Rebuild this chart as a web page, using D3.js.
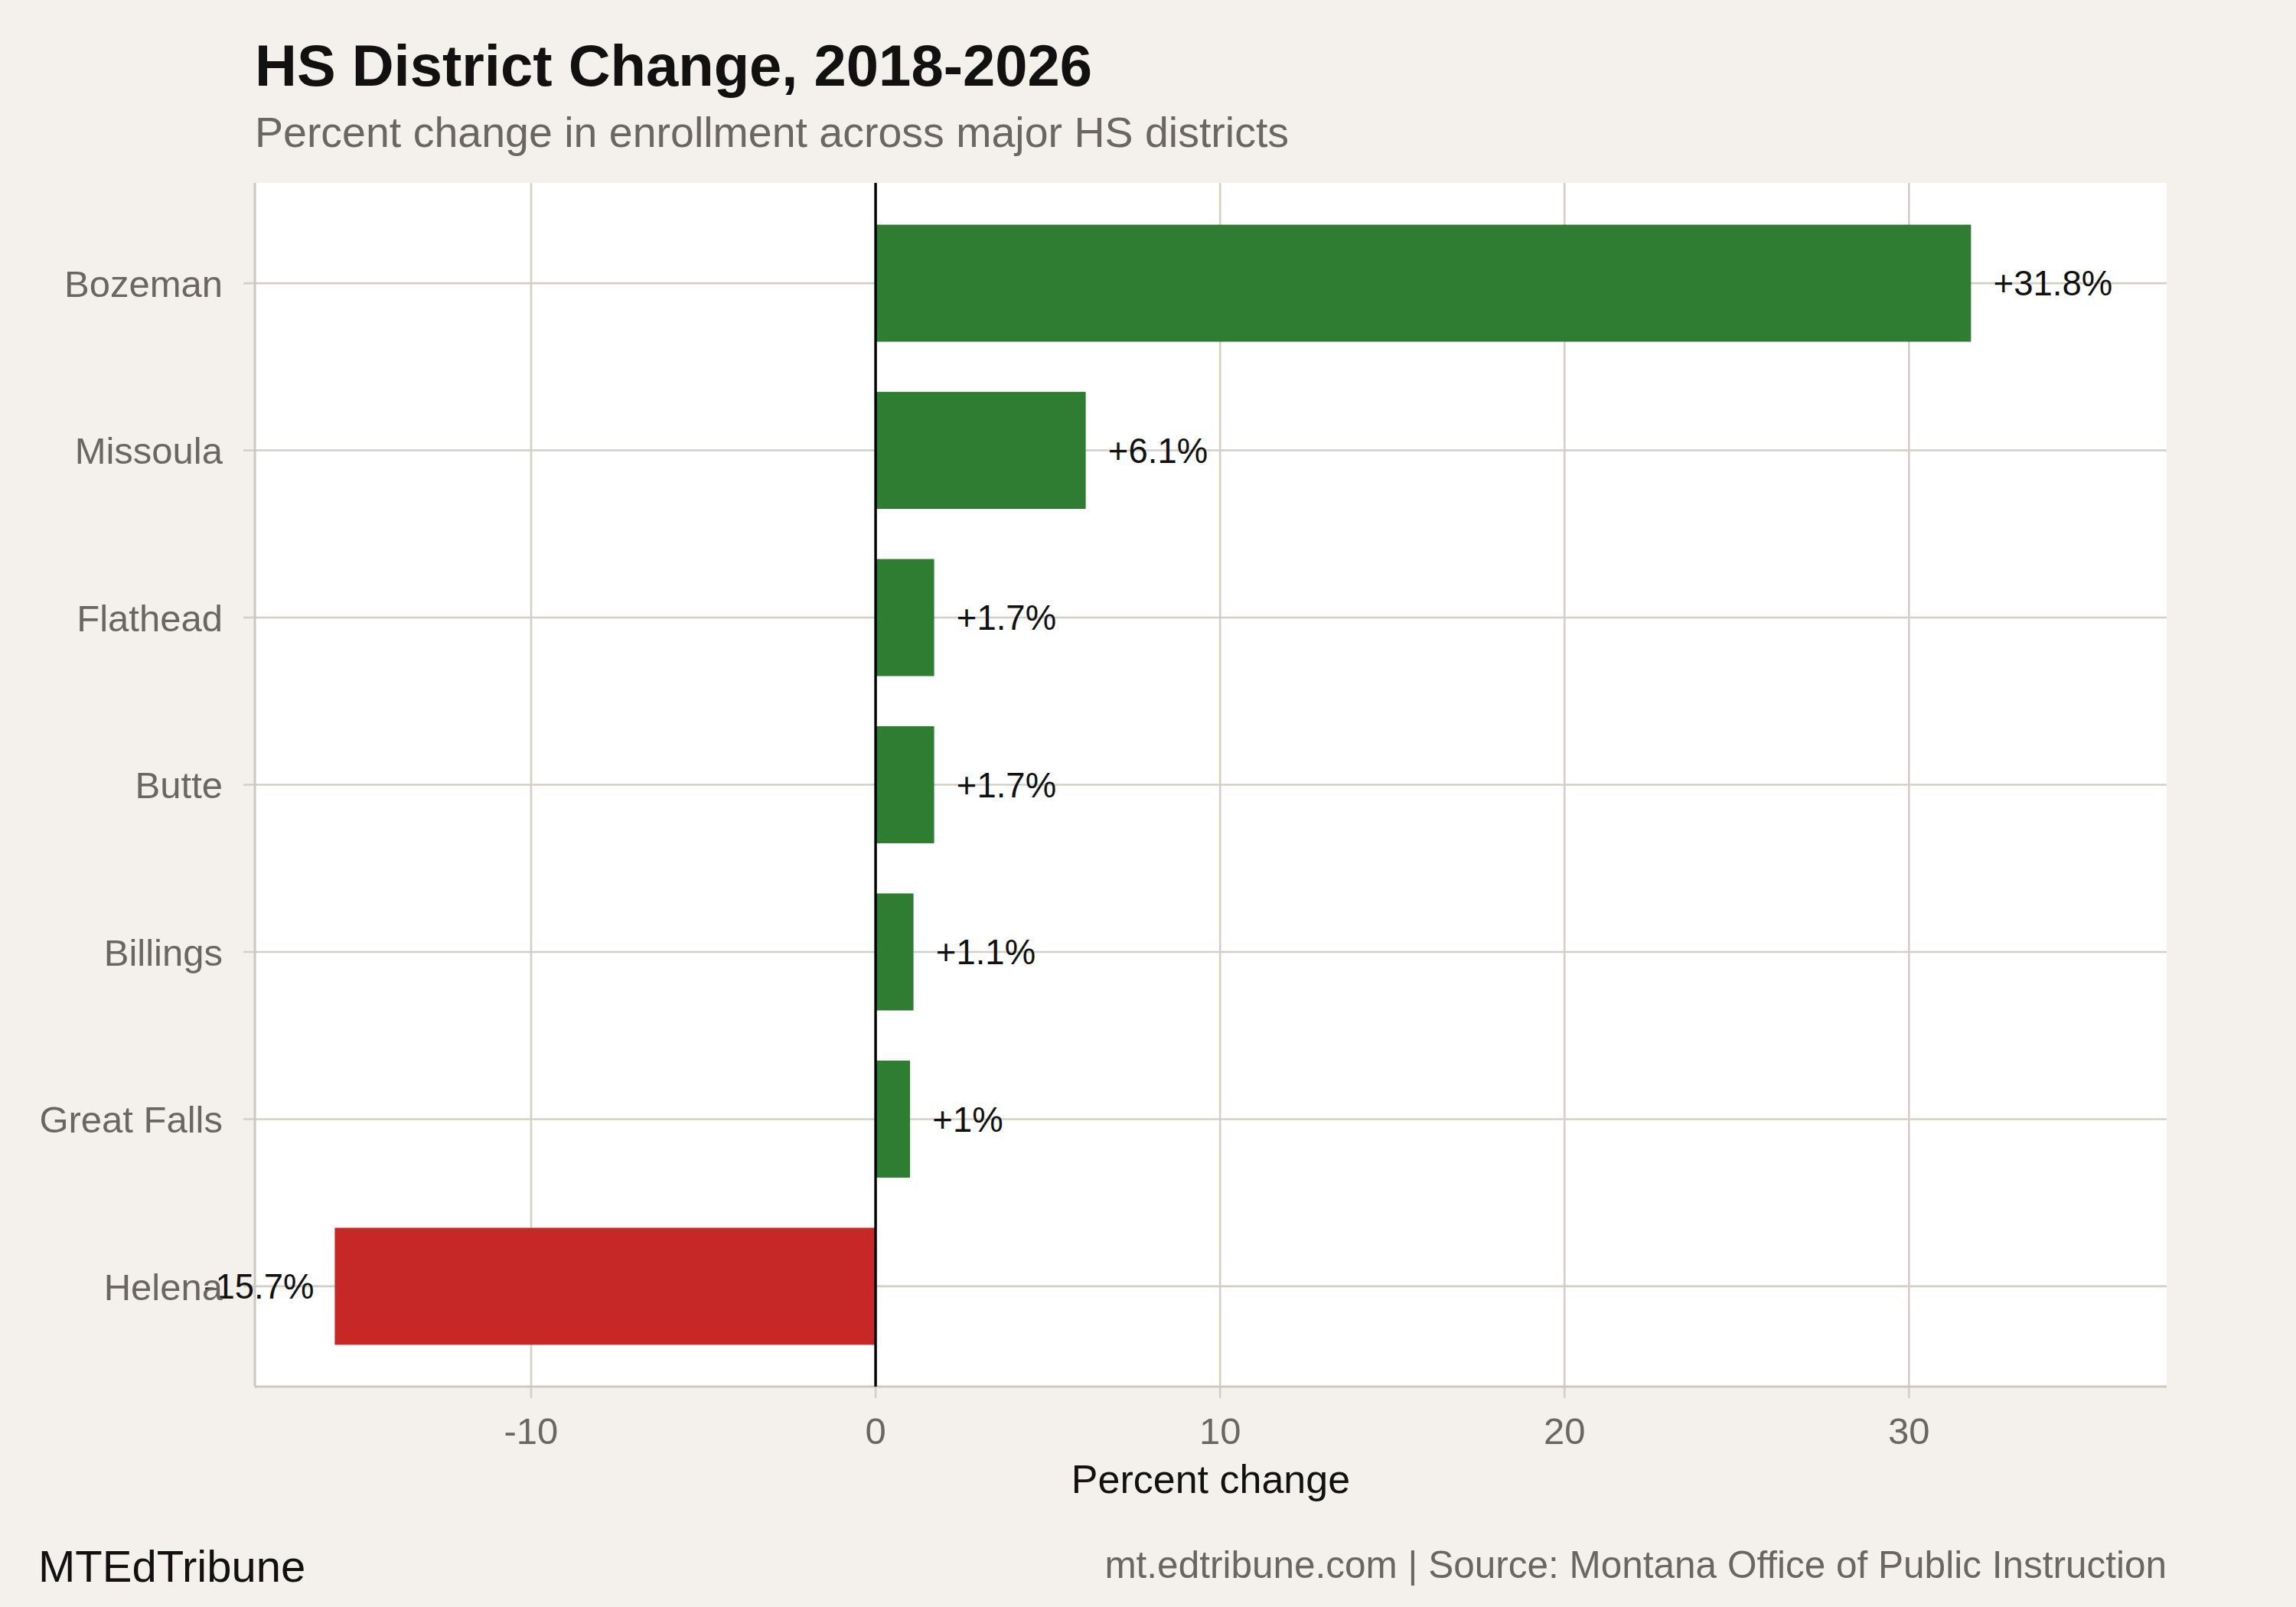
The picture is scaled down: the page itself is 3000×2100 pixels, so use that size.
<!DOCTYPE html>
<html>
<head>
    <title>HS District Change</title>
    <script src="https://d3js.org/d3.v7.min.js"></script>
    <style>
        body { margin: 0; background: #f4f1ec; }
        text { font-family: "Liberation Sans", Arial, Helvetica, sans-serif; }
        .grid line { stroke: #d3cec6; stroke-width: 2.6px; }
        .tick-label { fill: #6b6660; font-size: 49px; }
    </style>
</head>
<body>
    <div id="chart"></div>
    <script>
        // data
        const districts = ["Bozeman", "Missoula", "Flathead", "Butte", "Billings", "Great Falls", "Helena"]
        const changes = [31.8, 6.1, 1.7, 1.7, 1.1, 1.0, -15.7]
        const barLabels = ["+31.8%", "+6.1%", "+1.7%", "+1.7%", "+1.1%", "+1%", "-15.7%"]
        const xTicks = [-10, 0, 10, 20, 30]

        const W = 3000, H = 2100
        const panel = { left: 333, right: 2831, top: 239, bottom: 1812 }

        const svg = d3.select("#chart")
            .append("svg")
            .attr("width", W)
            .attr("height", H)

        svg.append("rect").attr("width", W).attr("height", H).attr("fill", "#f4f1ec")

        const x = d3.scaleLinear()
            .domain([-18.02, 37.48])
            .range([panel.left, panel.right])

        // discrete axis with ggplot's 0.6 padding on each end
        const y = d3.scalePoint()
            .domain(districts)
            .range([panel.top, panel.bottom])
            .padding(0.6)
        const band = y.step()

        // panel
        svg.append("rect")
            .attr("x", panel.left).attr("y", panel.top)
            .attr("width", panel.right - panel.left)
            .attr("height", panel.bottom - panel.top)
            .attr("fill", "white")

        const grid = svg.append("g").attr("class", "grid")
        grid.selectAll(".vx")
            .data(xTicks)
            .join("line")
            .attr("x1", d => x(d)).attr("x2", d => x(d))
            .attr("y1", panel.top).attr("y2", panel.bottom + 15)
        grid.selectAll(".hy")
            .data(districts)
            .join("line")
            .attr("x1", panel.left - 15).attr("x2", panel.right)
            .attr("y1", d => y(d)).attr("y2", d => y(d))

        // axis lines (left and bottom)
        svg.append("line")
            .attr("x1", panel.left).attr("x2", panel.left)
            .attr("y1", panel.top).attr("y2", panel.bottom)
            .attr("stroke", "#cdc7bd").attr("stroke-width", 3)
        svg.append("line")
            .attr("x1", panel.left).attr("x2", panel.right)
            .attr("y1", panel.bottom).attr("y2", panel.bottom)
            .attr("stroke", "#cdc7bd").attr("stroke-width", 3)

        // bars
        const rows = districts.map((d, i) => ({ name: d, value: changes[i], label: barLabels[i] }))
        svg.selectAll(".bar")
            .data(rows)
            .join("rect")
            .attr("class", "bar")
            .attr("x", d => x(Math.min(0, d.value)))
            .attr("width", d => Math.abs(x(d.value) - x(0)))
            .attr("y", d => y(d.name) - band * 0.35)
            .attr("height", band * 0.7)
            .attr("fill", d => d.value >= 0 ? "#2e7d32" : "#c62828")

        // zero line
        svg.append("line")
            .attr("x1", x(0)).attr("x2", x(0))
            .attr("y1", panel.top).attr("y2", panel.bottom)
            .attr("stroke", "black").attr("stroke-width", 3.4)

        // value labels
        svg.selectAll(".val")
            .data(rows)
            .join("text")
            .attr("class", "val")
            .attr("x", d => d.value >= 0 ? x(d.value + 0.65) : x(d.value - 0.6))
            .attr("y", d => y(d.name))
            .attr("dy", "0.36em")
            .attr("text-anchor", d => d.value >= 0 ? "start" : "end")
            .attr("font-size", 45.5)
            .attr("fill", "#111")
            .text(d => d.label)

        // y tick labels
        svg.selectAll(".ylab")
            .data(districts)
            .join("text")
            .attr("class", "tick-label")
            .attr("x", panel.left - 42)
            .attr("y", d => y(d))
            .attr("dy", "0.36em")
            .attr("text-anchor", "end")
            .text(d => d)

        // x tick labels
        svg.selectAll(".xlab")
            .data(xTicks)
            .join("text")
            .attr("class", "tick-label")
            .attr("x", d => x(d))
            .attr("y", 1887)
            .attr("text-anchor", "middle")
            .text(d => d)

        svg.append("text")
            .attr("x", (panel.left + panel.right) / 2)
            .attr("y", 1951)
            .attr("text-anchor", "middle")
            .attr("font-size", 52)
            .attr("fill", "#111")
            .text("Percent change")

        // titles
        svg.append("text")
            .attr("x", panel.left).attr("y", 112)
            .attr("font-size", 76).attr("font-weight", "bold")
            .attr("fill", "#111")
            .text("HS District Change, 2018-2026")
        svg.append("text")
            .attr("x", panel.left).attr("y", 192)
            .attr("font-size", 55.5)
            .attr("fill", "#6b6660")
            .text("Percent change in enrollment across major HS districts")

        // footer
        svg.append("text")
            .attr("x", 50).attr("y", 2067)
            .attr("font-size", 58)
            .attr("fill", "#111")
            .text("MTEdTribune")
        svg.append("text")
            .attr("x", panel.right).attr("y", 2062)
            .attr("text-anchor", "end")
            .attr("font-size", 49.5)
            .attr("fill", "#6b6660")
            .text("mt.edtribune.com | Source: Montana Office of Public Instruction")
    </script>
</body>
</html>
